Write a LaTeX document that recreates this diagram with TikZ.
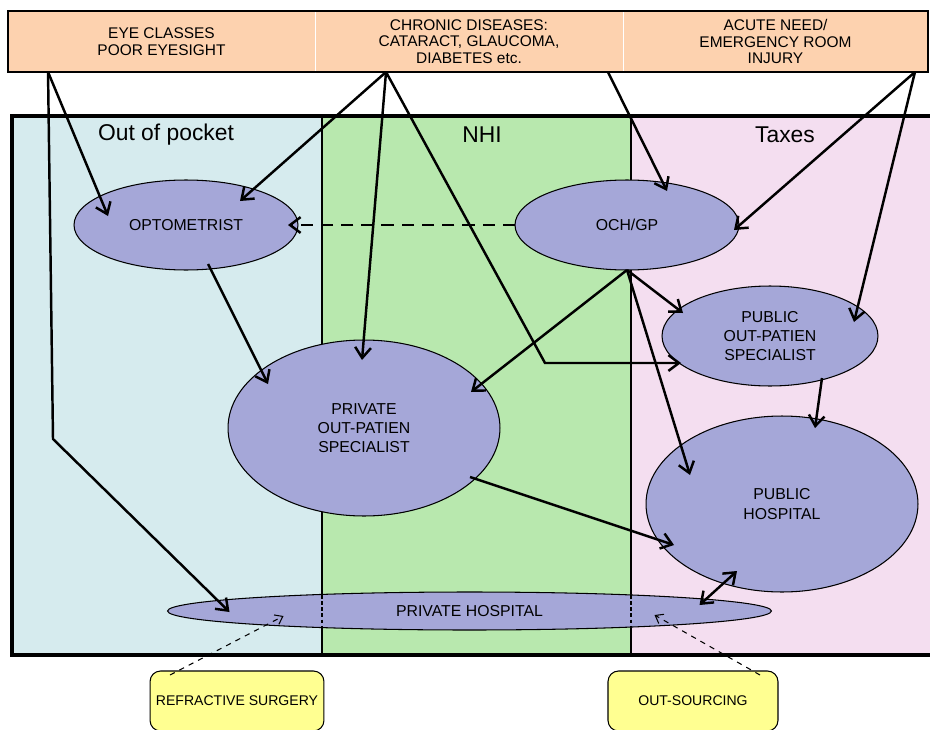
\documentclass[tikz,border=0pt]{standalone}
\usepackage{fontspec}
\setmainfont{Liberation Sans}
\usetikzlibrary{shapes.geometric,arrows.meta,calc}

\definecolor{peach}{RGB}{253,210,175}
\definecolor{pocketblue}{RGB}{214,235,238}
\definecolor{nhigreen}{RGB}{184,232,174}
\definecolor{taxpink}{RGB}{244,222,240}
\definecolor{unitblue}{RGB}{165,167,216}
\definecolor{noteyellow}{RGB}{255,255,145}

\tikzset{
  bar/.style={draw=white, fill=peach, minimum height=1.22cm, inner sep=0pt, outer sep=0pt,
    align=center, font=\fontsize{8.8}{9.5}\selectfont},
  unit/.style={ellipse, draw, line width=0.6pt, fill=unitblue, inner sep=0pt, outer sep=0pt,
    align=center, font=\fontsize{9}{11}\selectfont},
  note/.style={rectangle, rounded corners=6pt, draw, line width=0.6pt, fill=noteyellow,
    minimum width=3.4cm, minimum height=1.2cm, font=\fontsize{8}{10}\selectfont},
  coltitle/.style={font=\fontsize{13}{15}\selectfont},
  flow/.style={line width=1.4pt, -{Straight Barb[length=6pt,width=9pt]}},
  both/.style={line width=1.4pt, {Straight Barb[length=6pt,width=9pt]}-{Straight Barb[length=6pt,width=9pt]}},
  hint/.style={line width=0.6pt, dashed, -{Straight Barb[length=4pt,width=6pt]}}
}

\begin{document}
\begin{tikzpicture}[x=0.02cm, y=-0.02cm]
\useasboundingbox (0,0) rectangle (930,730);
\clip (0,0) rectangle (930,730);

% the three columns: who pays
\fill[pocketblue] (12,116) rectangle (322,655);
\fill[nhigreen] (322,116) rectangle (631,655);
\fill[taxpink] (631,116) rectangle (940,655);
\draw[line width=1.1pt] (322,116) -- (322,655);
\draw[line width=1.1pt] (631,116) -- (631,655);
\draw[line width=2.5pt] (12,116) rectangle (940,655);
\node[coltitle] (oop) at (166,135) {Out of pocket};
\node[coltitle] (nhi) at (482,135) {NHI};
\node[coltitle] (tax) at (785,135) {Taxes};

% top bar: patient needs
\node[bar, minimum width=6.14cm] (eye) at (161.5,41.5) {EYE CLASSES\\POOR EYESIGHT};
\node[bar, minimum width=6.16cm] (chronic) at (469,41.5) {CHRONIC DISEASES:\\CATARACT, GLAUCOMA,\\DIABETES etc.};
\node[bar, minimum width=6.1cm] (acute) at (775.5,41.5) {ACUTE NEED/\\EMERGENCY ROOM\\INJURY};
\draw[line width=1.6pt] (eye.north west) rectangle (acute.south east);

% providers
\node[unit, minimum width=4.48cm, minimum height=1.8cm] (opt) at (186,225) {OPTOMETRIST};
\node[unit, minimum width=4.48cm, minimum height=1.8cm] (och) at (627,225) {OCH/GP};
\node[unit, minimum width=5.44cm, minimum height=3.52cm] (privsp) at (364,428) {PRIVATE\\OUT-PATIEN\\SPECIALIST};
\node[unit, minimum width=4.32cm, minimum height=2cm] (pubsp) at (770,336) {PUBLIC\\OUT-PATIEN\\SPECIALIST};
\node[unit, minimum width=5.44cm, minimum height=3.52cm] (pubhosp) at (782,504) {PUBLIC\\HOSPITAL};
\node[unit, minimum width=12.08cm, minimum height=0.76cm] (privhosp) at (469.5,611) {PRIVATE HOSPITAL};
% column borders go on dashed over the private hospital
\draw[line width=0.6pt, dash pattern=on 2pt off 1.5pt] (322,595) -- (322,627);
\draw[line width=0.6pt, dash pattern=on 2pt off 1.5pt] (631,595) -- (631,627);

% notes below the frame
\node[note] (refr) at (237,701) {REFRACTIVE SURGERY};
\node[note] (outs) at (693,701) {OUT-SOURCING};

% start points and bends
\coordinate (eyesrc) at ($(eye.south west)+(40,0)$);
\coordinate (chrsrc) at ($(chronic.south west)+(71,0)$);
\coordinate (chrsrc2) at ($(chronic.south east)+(-15,0)$);
\coordinate (acusrc) at ($(acute.south east)+(-13,0)$);
\coordinate (eyebend) at (53,439);
\coordinate (chrbend) at (545,363);

% eye classes
\draw[flow] (eyesrc) -- ($(opt)+(-78,-9)$);
\draw[flow] (eyesrc) -- (eyebend) -- ($(privhosp)+(-240,1)$);
% chronic diseases
\draw[flow] (chrsrc) -- ($(opt)+(54,-24)$);
\draw[flow] (chrsrc) -- ($(privsp)+(-2,-68)$);
\draw[flow] (chrsrc) -- (chrbend) -- ($(pubsp)+(-89,27)$);
\draw[flow] (chrsrc2) -- ($(och)+(40,-34)$);
% acute need
\draw[flow] (acusrc) -- ($(och)+(107,5)$);
\draw[flow] (acusrc) -- ($(pubsp)+(84,-14)$);

% referrals
\draw[flow] ($(opt)+(22,39)$) -- ($(privsp)+(-96,-44)$);
\draw[flow, dash pattern=on 7pt off 4.5pt] (och.west) -- ($(opt)+(102,0)$);
\draw[flow] (och.south) -- ($(privsp)+(107,-36)$);
\draw[flow] (och.south) -- ($(pubsp)+(-87,-23)$);
\draw[flow] (och.south) -- ($(pubhosp)+(-92,-29)$);
\draw[flow] ($(pubsp)+(52,42)$) -- ($(pubhosp)+(33,-76)$);
\draw[flow] ($(privsp)+(106,49)$) -- ($(pubhosp)+(-108,41)$);
\draw[both] ($(privhosp)+(230,-6)$) -- ($(pubhosp)+(-45,67)$);

% notes point at the private hospital
\draw[hint] ($(refr)+(-67,-26)$) -- ($(privhosp)+(-186,5)$);
\draw[hint] ($(outs)+(67,-26)$) -- ($(privhosp)+(185,4)$);
\end{tikzpicture}
\end{document}
